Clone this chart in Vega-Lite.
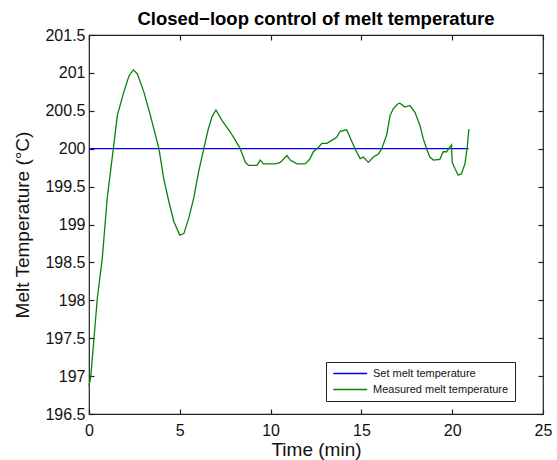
{
  "$schema": "https://vega.github.io/schema/vega-lite/v6.json",
  "width": 454,
  "height": 379,
  "autosize": "none",
  "padding": {"left": 89, "top": 35, "right": 14, "bottom": 46},
  "background": "white",
  "title": {"text": "Closed−loop control of melt temperature", "font": "Liberation Sans", "fontSize": 18.5, "fontWeight": "bold", "color": "#000", "offset": -1, "anchor": "middle"},
  "config": {
    "view": {"stroke": "#222", "strokeWidth": 1.2},
    "axis": {"labelFont": "Liberation Sans", "titleFont": "Liberation Sans", "labelColor": "#111", "titleColor": "#111", "labelFontSize": 16, "titleFontSize": 19, "titleFontWeight": "normal", "grid": false, "domain": false, "ticks": true, "tickSize": -5, "tickColor": "#222", "tickWidth": 1.2},
    "legend": {"labelFont": "Liberation Sans", "labelFontSize": 11, "labelColor": "#111", "strokeColor": "#222", "fillColor": "white", "padding": 6, "cornerRadius": 0}
  },
  "data": {"values": [
    {"series": "Set melt temperature", "t": 0, "T": 200},
    {"series": "Set melt temperature", "t": 20.9, "T": 200},
    {"series": "Measured melt temperature", "t": 0, "T": 196.87},
    {"series": "Measured melt temperature", "t": 0.1, "T": 197.0},
    {"series": "Measured melt temperature", "t": 0.46, "T": 198.03},
    {"series": "Measured melt temperature", "t": 0.73, "T": 198.55},
    {"series": "Measured melt temperature", "t": 1.0, "T": 199.34},
    {"series": "Measured melt temperature", "t": 1.34, "T": 200.0},
    {"series": "Measured melt temperature", "t": 1.56, "T": 200.44},
    {"series": "Measured melt temperature", "t": 1.92, "T": 200.75},
    {"series": "Measured melt temperature", "t": 2.2, "T": 200.96},
    {"series": "Measured melt temperature", "t": 2.44, "T": 201.04},
    {"series": "Measured melt temperature", "t": 2.66, "T": 200.99},
    {"series": "Measured melt temperature", "t": 3.02, "T": 200.75},
    {"series": "Measured melt temperature", "t": 3.39, "T": 200.43},
    {"series": "Measured melt temperature", "t": 3.85, "T": 200.0},
    {"series": "Measured melt temperature", "t": 4.12, "T": 199.6},
    {"series": "Measured melt temperature", "t": 4.4, "T": 199.3},
    {"series": "Measured melt temperature", "t": 4.67, "T": 199.04},
    {"series": "Measured melt temperature", "t": 5.0, "T": 198.86},
    {"series": "Measured melt temperature", "t": 5.22, "T": 198.88},
    {"series": "Measured melt temperature", "t": 5.49, "T": 199.08},
    {"series": "Measured melt temperature", "t": 5.77, "T": 199.35},
    {"series": "Measured melt temperature", "t": 6.04, "T": 199.7},
    {"series": "Measured melt temperature", "t": 6.32, "T": 200.0},
    {"series": "Measured melt temperature", "t": 6.55, "T": 200.24},
    {"series": "Measured melt temperature", "t": 6.77, "T": 200.42},
    {"series": "Measured melt temperature", "t": 6.99, "T": 200.51},
    {"series": "Measured melt temperature", "t": 7.33, "T": 200.37},
    {"series": "Measured melt temperature", "t": 7.78, "T": 200.22},
    {"series": "Measured melt temperature", "t": 8.06, "T": 200.11},
    {"series": "Measured melt temperature", "t": 8.33, "T": 200.0},
    {"series": "Measured melt temperature", "t": 8.61, "T": 199.82},
    {"series": "Measured melt temperature", "t": 8.79, "T": 199.78},
    {"series": "Measured melt temperature", "t": 9.25, "T": 199.78},
    {"series": "Measured melt temperature", "t": 9.43, "T": 199.85},
    {"series": "Measured melt temperature", "t": 9.6, "T": 199.8},
    {"series": "Measured melt temperature", "t": 10.26, "T": 199.8},
    {"series": "Measured melt temperature", "t": 10.53, "T": 199.82},
    {"series": "Measured melt temperature", "t": 10.9, "T": 199.91},
    {"series": "Measured melt temperature", "t": 11.08, "T": 199.85},
    {"series": "Measured melt temperature", "t": 11.45, "T": 199.8},
    {"series": "Measured melt temperature", "t": 11.9, "T": 199.8},
    {"series": "Measured melt temperature", "t": 12.15, "T": 199.86},
    {"series": "Measured melt temperature", "t": 12.36, "T": 199.96},
    {"series": "Measured melt temperature", "t": 12.64, "T": 200.02},
    {"series": "Measured melt temperature", "t": 12.82, "T": 200.07},
    {"series": "Measured melt temperature", "t": 13.1, "T": 200.07},
    {"series": "Measured melt temperature", "t": 13.37, "T": 200.11},
    {"series": "Measured melt temperature", "t": 13.64, "T": 200.15},
    {"series": "Measured melt temperature", "t": 13.83, "T": 200.23},
    {"series": "Measured melt temperature", "t": 14.19, "T": 200.25},
    {"series": "Measured melt temperature", "t": 14.37, "T": 200.15},
    {"series": "Measured melt temperature", "t": 14.65, "T": 200.0},
    {"series": "Measured melt temperature", "t": 14.93, "T": 199.87},
    {"series": "Measured melt temperature", "t": 15.11, "T": 199.89},
    {"series": "Measured melt temperature", "t": 15.38, "T": 199.82},
    {"series": "Measured melt temperature", "t": 15.66, "T": 199.89},
    {"series": "Measured melt temperature", "t": 15.93, "T": 199.93},
    {"series": "Measured melt temperature", "t": 16.12, "T": 200.0},
    {"series": "Measured melt temperature", "t": 16.39, "T": 200.18},
    {"series": "Measured melt temperature", "t": 16.58, "T": 200.44},
    {"series": "Measured melt temperature", "t": 16.76, "T": 200.53},
    {"series": "Measured melt temperature", "t": 17.0, "T": 200.59},
    {"series": "Measured melt temperature", "t": 17.12, "T": 200.6},
    {"series": "Measured melt temperature", "t": 17.4, "T": 200.55},
    {"series": "Measured melt temperature", "t": 17.67, "T": 200.57},
    {"series": "Measured melt temperature", "t": 17.95, "T": 200.48},
    {"series": "Measured melt temperature", "t": 18.22, "T": 200.31},
    {"series": "Measured melt temperature", "t": 18.41, "T": 200.13},
    {"series": "Measured melt temperature", "t": 18.59, "T": 200.0},
    {"series": "Measured melt temperature", "t": 18.77, "T": 199.89},
    {"series": "Measured melt temperature", "t": 18.96, "T": 199.85},
    {"series": "Measured melt temperature", "t": 19.32, "T": 199.86},
    {"series": "Measured melt temperature", "t": 19.5, "T": 199.96},
    {"series": "Measured melt temperature", "t": 19.69, "T": 199.96},
    {"series": "Measured melt temperature", "t": 19.87, "T": 200.02},
    {"series": "Measured melt temperature", "t": 19.96, "T": 200.05},
    {"series": "Measured melt temperature", "t": 20.0, "T": 199.82},
    {"series": "Measured melt temperature", "t": 20.15, "T": 199.74},
    {"series": "Measured melt temperature", "t": 20.33, "T": 199.65},
    {"series": "Measured melt temperature", "t": 20.51, "T": 199.67},
    {"series": "Measured melt temperature", "t": 20.7, "T": 199.8},
    {"series": "Measured melt temperature", "t": 20.82, "T": 200.0},
    {"series": "Measured melt temperature", "t": 20.92, "T": 200.26}
  ]},
  "resolve": {"axis": {"x": "independent", "y": "independent"}},
  "layer": [
    {
      "mark": {"type": "line", "strokeWidth": 1.3, "interpolate": "linear"},
      "encoding": {
        "x": {"field": "t", "type": "quantitative", "scale": {"domain": [0, 25], "nice": false, "zero": false},
              "axis": {"orient": "bottom", "title": "Time (min)", "values": [0, 5, 10, 15, 20, 25], "labelPadding": 13, "titlePadding": 2, "labelFlush": false}},
        "y": {"field": "T", "type": "quantitative", "scale": {"domain": [196.5, 201.5], "nice": false, "zero": false},
              "axis": {"orient": "left", "title": "Melt Temperature (°C)", "values": [196.5, 197, 197.5, 198, 198.5, 199, 199.5, 200, 200.5, 201, 201.5], "format": "~g", "labelPadding": 9, "titlePadding": 12}},
        "color": {"field": "series", "type": "nominal",
                  "scale": {"domain": ["Set melt temperature", "Measured melt temperature"], "range": ["#0000ff", "#0a820a"]},
                  "legend": {"title": null, "orient": "none", "legendX": 237, "legendY": 327, "symbolType": "M-1,0H7", "symbolSize": 72, "symbolStrokeWidth": 1.3, "labelOffset": 30, "rowPadding": 4}},
        "order": {"field": "t", "type": "quantitative"}
      }
    },
    {
      "mark": {"type": "line", "strokeOpacity": 0},
      "encoding": {
        "x": {"field": "t", "type": "quantitative", "scale": {"domain": [0, 25], "nice": false, "zero": false},
              "axis": {"orient": "top", "title": null, "labels": false, "values": [0, 5, 10, 15, 20, 25]}},
        "y": {"field": "T", "type": "quantitative", "scale": {"domain": [196.5, 201.5], "nice": false, "zero": false},
              "axis": {"orient": "right", "title": null, "labels": false, "values": [196.5, 197, 197.5, 198, 198.5, 199, 199.5, 200, 200.5, 201, 201.5]}},
        "detail": {"field": "series", "type": "nominal"}
      }
    }
  ]
}
